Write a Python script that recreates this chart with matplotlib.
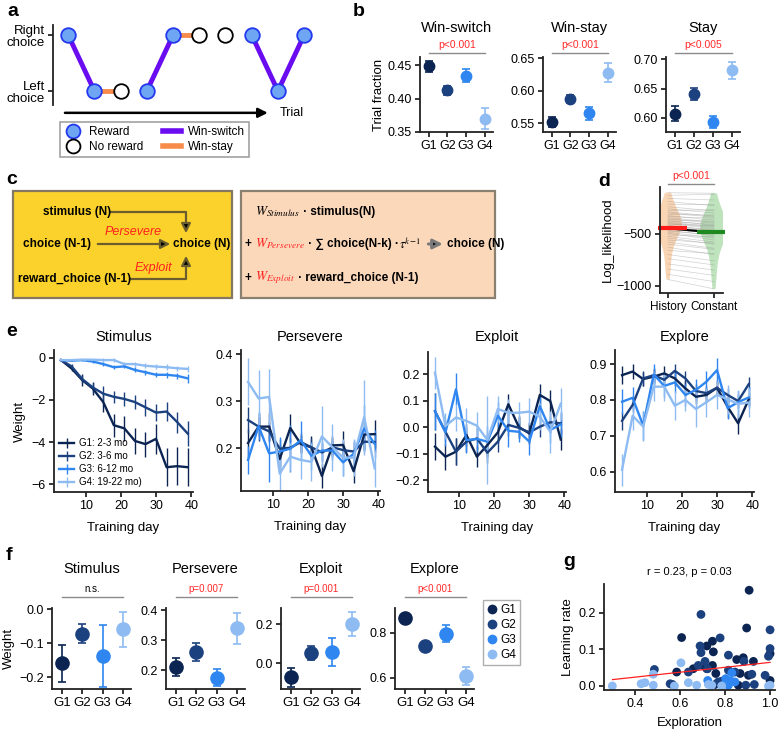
import numpy as np
import matplotlib.pyplot as plt
from matplotlib.lines import Line2D
from matplotlib.patches import Rectangle, FancyArrowPatch

plt.rcParams['font.family'] = ['Liberation Sans', 'DejaVu Sans']
plt.rcParams['mathtext.fontset'] = 'stix'
plt.rcParams['axes.linewidth'] = 1.3
plt.rcParams['axes.edgecolor'] = '#222222'
plt.rcParams['xtick.major.width'] = 1.1
plt.rcParams['ytick.major.width'] = 1.1
plt.rcParams['xtick.major.size'] = 3.5
plt.rcParams['ytick.major.size'] = 3.5
plt.rcParams['xtick.labelsize'] = 9
plt.rcParams['ytick.labelsize'] = 9
plt.rcParams['xtick.major.pad'] = 2.5
plt.rcParams['ytick.major.pad'] = 2.5

##### data
groups = ['G1', 'G2', 'G3', 'G4']
group_colors = ['#0b2452', '#1c417f', '#2f86f0', '#8dbbf2']
age_labels = ['G1: 2-3 mo', 'G2: 3-6 mo', 'G3: 6-12 mo', 'G4: 19-22 mo)']

# a: example trials (1 = right choice)
trial_choice = [1, 0, 0, 0, 1, 1, 1, 1, 0, 1]
trial_reward = [1, 1, 0, 1, 1, 0, 0, 1, 1, 1]

# b
b_titles = ['Win-switch', 'Win-stay', 'Stay']
b_pvals = ['p<0.001', 'p<0.001', 'p<0.005']
winswitch_mean = [0.448, 0.412, 0.434, 0.370]
winswitch_sem = [0.008, 0.007, 0.010, 0.016]
winstay_mean = [0.552, 0.587, 0.565, 0.628]
winstay_sem = [0.008, 0.006, 0.010, 0.015]
stay_mean = [0.607, 0.641, 0.593, 0.681]
stay_sem = [0.013, 0.010, 0.010, 0.015]

# d: log likelihood per animal
ll_history = [-105, -130, -160, -190, -215, -240, -260, -275, -290, -300, -315, -325,
              -335, -345, -355, -365, -372, -380, -388, -395, -402, -410, -418, -425,
              -433, -440, -448, -456, -465, -475, -485, -495, -510, -525, -540, -560,
              -580, -600, -630, -660, -700, -740, -790, -840, -890, -940]
ll_constant = [-110, -120, -175, -230, -220, -280, -300, -270, -330, -340, -320, -370,
               -350, -390, -400, -380, -420, -410, -430, -440, -450, -420, -470, -460,
               -480, -470, -500, -490, -520, -510, -540, -560, -530, -580, -600, -590,
               -640, -650, -700, -690, -760, -800, -850, -900, -960, -1030]

# e: weights over training days
days = [3, 6, 9, 12, 15, 18, 21, 24, 27, 30, 33, 36, 39]
e_titles = ['Stimulus', 'Persevere', 'Exploit', 'Explore']
stim_mean = [[-0.1, -0.5, -1.05, -1.45, -2.1, -3.2, -3.35, -3.95, -4.1, -3.85, -5.2, -5.15, -5.2],
             [-0.1, -0.4, -1.0, -1.4, -1.7, -1.85, -1.95, -2.1, -2.35, -2.6, -2.55, -3.05, -3.6],
             [-0.1, -0.13, -0.1, -0.17, -0.29, -0.44, -0.4, -0.57, -0.68, -0.8, -0.8, -0.85, -0.97],
             [-0.1, -0.1, -0.08, -0.08, -0.1, -0.1, -0.29, -0.29, -0.37, -0.41, -0.44, -0.49, -0.52]]
stim_err = [[0.05, 0.1, 0.3, 0.3, 0.45, 0.55, 0.6, 0.6, 0.6, 0.7, 0.9, 0.9, 0.9],
            [0.05, 0.1, 0.2, 0.2, 0.35, 0.3, 0.35, 0.35, 0.4, 0.4, 0.45, 0.5, 0.6],
            [0.02, 0.03, 0.05, 0.05, 0.08, 0.1, 0.1, 0.12, 0.12, 0.12, 0.13, 0.15, 0.2],
            [0.02, 0.03, 0.05, 0.05, 0.08, 0.1, 0.1, 0.12, 0.12, 0.12, 0.13, 0.13, 0.15]]
pers_mean = [[0.211, 0.246, 0.246, 0.177, 0.243, 0.209, 0.202, 0.141, 0.206, 0.207, 0.151, 0.229, 0.230],
             [0.260, 0.246, 0.236, 0.199, 0.201, 0.213, 0.202, 0.191, 0.202, 0.196, 0.193, 0.214, 0.213],
             [0.175, 0.247, 0.189, 0.193, 0.199, 0.217, 0.184, 0.195, 0.195, 0.170, 0.188, 0.242, 0.209],
             [0.341, 0.306, 0.309, 0.146, 0.182, 0.175, 0.171, 0.225, 0.202, 0.180, 0.180, 0.266, 0.157]]
pers_err = [[0.03, 0.03, 0.03, 0.03, 0.03, 0.02, 0.025, 0.025, 0.02, 0.03, 0.025, 0.03, 0.03],
            [0.028, 0.02, 0.02, 0.02, 0.02, 0.02, 0.02, 0.02, 0.02, 0.02, 0.02, 0.02, 0.02],
            [0.03, 0.03, 0.06, 0.03, 0.05, 0.04, 0.03, 0.02, 0.02, 0.03, 0.03, 0.05, 0.03],
            [0.05, 0.06, 0.06, 0.05, 0.03, 0.04, 0.04, 0.065, 0.05, 0.04, 0.04, 0.08, 0.04]]
expl_mean = [[-0.074, -0.112, -0.093, -0.030, -0.112, -0.068, -0.020, 0.086, 0.000, -0.024, 0.121, 0.098, -0.047],
             [0.060, -0.018, -0.093, -0.055, -0.043, -0.097, -0.055, 0.008, -0.003, -0.020, 0.001, 0.018, 0.014],
             [0.060, -0.020, 0.142, -0.049, -0.045, -0.055, 0.043, -0.014, -0.018, -0.055, 0.079, -0.011, 0.010],
             [0.205, 0.004, 0.036, 0.023, 0.005, -0.049, 0.068, 0.054, 0.054, 0.058, 0.039, -0.018, 0.088]]
expl_err = [[0.05, 0.05, 0.05, 0.04, 0.04, 0.04, 0.04, 0.04, 0.04, 0.04, 0.04, 0.04, 0.04],
            [0.07, 0.04, 0.05, 0.04, 0.04, 0.04, 0.04, 0.04, 0.04, 0.04, 0.04, 0.04, 0.04],
            [0.07, 0.05, 0.06, 0.05, 0.05, 0.06, 0.05, 0.06, 0.04, 0.05, 0.05, 0.05, 0.05],
            [0.06, 0.05, 0.05, 0.05, 0.05, 0.165, 0.05, 0.05, 0.04, 0.05, 0.05, 0.08, 0.06]]
explore_mean = [[0.869, 0.879, 0.858, 0.865, 0.874, 0.860, 0.832, 0.809, 0.814, 0.834, 0.781, 0.735, 0.802],
                [0.742, 0.786, 0.860, 0.869, 0.856, 0.881, 0.860, 0.825, 0.819, 0.834, 0.814, 0.797, 0.844],
                [0.795, 0.806, 0.729, 0.871, 0.839, 0.849, 0.814, 0.828, 0.851, 0.883, 0.777, 0.794, 0.807],
                [0.606, 0.756, 0.726, 0.837, 0.837, 0.784, 0.800, 0.775, 0.794, 0.814, 0.802, 0.789, 0.793]]
explore_err = [[0.025, 0.02, 0.02, 0.02, 0.02, 0.02, 0.02, 0.02, 0.02, 0.02, 0.03, 0.03, 0.02],
               [0.025, 0.02, 0.02, 0.02, 0.02, 0.02, 0.02, 0.02, 0.02, 0.02, 0.02, 0.02, 0.02],
               [0.035, 0.03, 0.04, 0.03, 0.03, 0.03, 0.03, 0.03, 0.03, 0.035, 0.03, 0.03, 0.03],
               [0.045, 0.04, 0.04, 0.04, 0.04, 0.04, 0.03, 0.05, 0.04, 0.04, 0.04, 0.04, 0.04]]

# f: average weights per group
f_titles = ['Stimulus', 'Persevere', 'Exploit', 'Explore']
f_pvals = ['n.s.', 'p=0.007', 'p=0.001', 'p<0.001']
f_stim_mean = [-0.160, -0.073, -0.138, -0.060]
f_stim_err = [0.054, 0.028, 0.091, 0.051]
f_pers_mean = [0.210, 0.259, 0.175, 0.339]
f_pers_err = [0.030, 0.030, 0.028, 0.052]
f_expl_mean = [-0.073, 0.052, 0.058, 0.201]
f_expl_err = [0.049, 0.035, 0.071, 0.061]
f_explore_mean = [0.868, 0.743, 0.797, 0.607]
f_explore_err = [0.016, 0.012, 0.038, 0.040]

# g: exploration vs learning rate
g_explore = [0.907, 0.693, 0.896, 1.0, 0.607, 0.778, 0.744, 0.689, 0.719, 1.0, 1.0, 0.693,
             0.748, 0.815, 0.881, 0.993, 0.926, 0.884, 0.852, 0.711, 0.704, 0.681, 0.744,
             0.722, 0.659, 0.486, 0.585, 0.637, 0.759, 0.844, 0.904, 0.919, 0.867, 0.978,
             1.0, 0.556, 0.566, 0.785, 0.815, 0.770, 0.859, 0.892, 0.756, 0.930, 0.719, 0.815,
             0.604, 0.481, 0.830, 0.444, 0.427, 0.299, 0.481, 0.575, 0.637, 0.674, 0.723,
             0.741, 0.803, 0.815, 0.785, 0.827, 0.844, 1.0, 0.993, 0.800, 0.726]
g_lrate = [0.261, 0.195, 0.158, 0.153, 0.132, 0.131, 0.122, 0.109, 0.109, 0.102, 0.088, 0.091,
           0.093, 0.084, 0.077, 0.081, 0.067, 0.067, 0.072, 0.067, 0.056, 0.056, 0.056,
           0.047, 0.047, 0.045, 0.038, 0.038, 0.034, 0.038, 0.029, 0.032, 0.034, 0.029,
           0.015, 0.006, 0.004, 0.013, 0.011, 0.011, 0.002, 0.002, 0.004, 0.004, 0.047, 0.043,
           0.063, 0.032, 0.036, 0.009, 0.006, 0.0, 0.002, 0.0, 0.009, 0.002, 0.015,
           0.002, 0.020, 0.002, 0.0, 0.013, 0.011, 0.002, 0.0, 0.006, 0.004]
g_group = [0, 1, 0, 1, 0, 1, 0, 1, 0, 1, 0, 1, 0, 1, 0, 1, 0, 1, 0, 1, 0, 1, 0,
           1, 0, 1, 0, 1, 0, 1, 0, 1, 0, 1, 0, 1, 0, 1, 0, 1, 0, 1, 0, 1, 0, 1,
           3, 3, 2, 3, 3, 3, 3, 3, 3, 3, 2, 3, 2, 2, 3, 2, 2, 3, 3, 2, 3]

W, H = 780, 730
fig = plt.figure(figsize=(7.8, 7.3), dpi=100)


def add_ax(x0, y0, x1, y1):
    # axes from pixel box (top-left origin)
    return fig.add_axes([x0 / W, 1 - y1 / H, (x1 - x0) / W, (y1 - y0) / H])


def despine(ax):
    ax.spines['top'].set_visible(False)
    ax.spines['right'].set_visible(False)


def sig(ax, text, color, ytext, yline, fs=7.5):
    tr = ax.get_xaxis_transform()
    ax.plot([0, 3], [yline, yline], transform=tr, color='#8a8a8a', lw=1, clip_on=False)
    ax.text(1.5, ytext, text, transform=tr, ha='center', va='center', color=color, fontsize=fs)


def top_text(ax, frac, s, fs=10.5):
    ax.text(0.5, frac, s, transform=ax.transAxes, ha='center', va='center', fontsize=fs)


for lab, x, y in [('a', 7, 12), ('b', 353, 12), ('c', 6, 180), ('d', 598, 182),
                  ('e', 6, 332), ('f', 6, 555), ('g', 563, 562)]:
    fig.text(x / W, 1 - y / H, lab, fontsize=14, fontweight='bold', va='center', ha='left')

##### a
purple, orange = '#6a0cf0', '#f68b4c'
ax = add_ax(53, 25, 312, 105)
tx = np.arange(1, len(trial_choice) + 1)
ch = np.array(trial_choice)
rw = np.array(trial_reward, bool)
for i in range(len(tx) - 1):
    if rw[i]:
        col = purple if ch[i + 1] != ch[i] else orange
        ax.plot(tx[i:i + 2], ch[i:i + 2], color=col, lw=3.5, zorder=1, clip_on=False)
ax.plot(tx[rw], ch[rw], 'o', ms=10.5, mfc='#6ea6f4', mec='#2438f0', mew=1.3, ls='none',
        zorder=3, clip_on=False)
ax.plot(tx[~rw], ch[~rw], 'o', ms=10.5, mfc='white', mec='black', mew=1.3, ls='none',
        zorder=3, clip_on=False)
ax.set_xlim(0.42, 10.3)
ax.set_ylim(-0.25, 1.18)
for s in ['top', 'right', 'bottom']:
    ax.spines[s].set_visible(False)
ax.set_xticks([])
ax.set_yticks([0, 1])
ax.set_yticklabels(['Left\nchoice', 'Right\nchoice'], fontsize=9.5, linespacing=1.1)
ax.annotate('', xy=(8.72, -0.39), xytext=(0.77, -0.39), annotation_clip=False,
            arrowprops=dict(arrowstyle='-|>', lw=1.8, color='black', mutation_scale=14))
ax.text(9.05, -0.39, 'Trial', va='center', ha='left', fontsize=9)
handles = [Line2D([], [], marker='o', ls='none', ms=10, mfc='#6ea6f4', mec='#2438f0', mew=1.3),
           Line2D([], [], marker='o', ls='none', ms=10, mfc='white', mec='black', mew=1.3),
           Line2D([], [], color=purple, lw=4),
           Line2D([], [], color=orange, lw=4)]
leg = fig.legend(handles, ['Reward', 'No reward', 'Win-switch', 'Win-stay'], ncol=2,
                 loc='upper left', bbox_to_anchor=(60 / W, 1 - 122 / H), fontsize=8.5,
                 fancybox=False, edgecolor='#8a8a8a', borderaxespad=0, handlelength=1.5,
                 columnspacing=1.7, labelspacing=0.25, handletextpad=0.6, borderpad=0.35)
leg.get_frame().set_linewidth(1.2)

##### b
b_means = [winswitch_mean, winstay_mean, stay_mean]
b_sems = [winswitch_sem, winstay_sem, stay_sem]
b_boxes = [(420, 57, 493, 132), (543, 57, 616, 132), (666, 57, 740, 132)]
b_ylims = [(0.35, 0.462), (0.5364, 0.652), (0.576, 0.704)]
b_ticks = [[0.35, 0.40, 0.45], [0.55, 0.60, 0.65], [0.60, 0.65, 0.70]]
for k in range(3):
    ax = add_ax(*b_boxes[k])
    for g in range(4):
        ax.errorbar(g, b_means[k][g], yerr=b_sems[k][g], fmt='o', color=group_colors[g],
                    ms=7.5, capsize=3, elinewidth=1.2, capthick=1.2)
    ax.set_xlim(-0.48, 3.45)
    ax.set_ylim(*b_ylims[k])
    ax.set_yticks(b_ticks[k])
    ax.set_yticklabels(['%.2f' % v for v in b_ticks[k]])
    ax.set_xticks(range(4))
    ax.set_xticklabels(groups)
    despine(ax)
    top_text(ax, 1 + 29 / 75, b_titles[k])
    sig(ax, b_pvals[k], '#ff2a2a', 1 + 12 / 75, 1 + 4 / 75)
    if k == 0:
        ax.set_ylabel('Trial fraction', fontsize=9.5, labelpad=2)

##### c
ax = add_ax(0, 185, 510, 305)
ax.set_xlim(0, 510)
ax.set_ylim(305, 185)
ax.axis('off')
ax.add_patch(Rectangle((13, 191), 219, 107, facecolor='#fbd22b', edgecolor='#857860', lw=1.6))
ax.add_patch(Rectangle((241, 191), 254, 107, facecolor='#fcd8bb', edgecolor='#8a8070', lw=1.6))
shaft = '#6b5d2e'
bold = dict(fontsize=8.5, fontweight='bold', va='center')
ax.text(43, 212, 'stimulus (N)', ha='left', **bold)
ax.text(23, 244, 'choice (N-1)', ha='left', **bold)
ax.text(18, 279, 'reward_choice (N-1)', ha='left', **bold)
ax.text(173, 244, 'choice (N)', ha='left', **bold)
ax.text(105, 232, 'Persevere', ha='left', va='center', fontsize=9, style='italic', color='#ff2020')
ax.text(135, 268, 'Exploit', ha='left', va='center', fontsize=9, style='italic', color='#ff2020')
ax.plot([111, 186, 186], [212, 212, 222], color=shaft, lw=1.6)
ax.plot([130, 186, 186], [279, 279, 266], color=shaft, lw=1.6)


def head(x0, y0, x1, y1, ec=shaft, lw=1.6):
    ax.add_patch(FancyArrowPatch((x0, y0), (x1, y1), arrowstyle='-|>', mutation_scale=14,
                                 lw=lw, ec=ec, fc='black'))


head(186, 220, 186, 236)
head(186, 268, 186, 253)
head(95, 244, 173, 244)


def text_run(x, y, pieces):
    r = fig.canvas.get_renderer()
    for s, kw in pieces:
        t = ax.text(x, y, s, va='center', ha='left', **kw)
        bb = t.get_window_extent(renderer=r)
        x = ax.transData.inverted().transform((bb.x1, bb.y0))[0]
    return x


bk = dict(fontsize=8.5, fontweight='bold')
blk_w = dict(fontsize=9.5)
red_w = dict(fontsize=9.5, color='#ff2020')
text_run(255, 212, [(r'$W_{Stimulus}$', blk_w), (' · stimulus(N)', bk)])
xe = text_run(245, 244, [('+ ', bk), (r'$W_{Persevere}$', red_w), (' · ∑ choice(N-k) ·', bk),
                         (r'$\tau^{k\!-\!1}$', dict(fontsize=9))])
text_run(245, 278, [('+ ', bk), (r'$W_{Exploit}$', red_w), (' · reward_choice (N-1)', bk)])
head(xe + 5, 244, xe + 25, 244, ec='#7a7a7a', lw=2.2)
ax.text(xe + 26, 244, 'choice (N)', ha='left', **bold)

##### d
ax = add_ax(660, 187, 723, 293)
parts = ax.violinplot([ll_history, ll_constant], positions=[0, 1], widths=0.6, showextrema=False)
for body, c in zip(parts['bodies'], ['#f7bf8c', '#9dd59a']):
    body.set_facecolor(c)
    body.set_edgecolor('none')
    body.set_alpha(0.65)
for h, c in zip(ll_history, ll_constant):
    ax.plot([0, 1], [h, c], color='#8c8c8c', lw=0.5, alpha=0.4)
mh, mc = np.mean(ll_history), np.mean(ll_constant)
ax.plot([0, 1], [mh, mc], color='black', lw=1.5)
ax.plot([-0.22, 0.41], [mh, mh], color='#ff1a1a', lw=3, solid_capstyle='butt', clip_on=False)
ax.plot([0.63, 1.24], [mc, mc], color='#1f8a1f', lw=3, solid_capstyle='butt', clip_on=False)
ax.set_xlim(-0.174, 1.196)
ax.set_ylim(-1070, -50)
ax.set_yticks([-500, -1000])
ax.set_xticks([0, 1])
ax.set_xticklabels(['History', 'Constant'], fontsize=8.5)
ax.set_ylabel('Log_likelihood', fontsize=9.5, labelpad=2)
despine(ax)
tr = ax.get_xaxis_transform()
ax.plot([0, 1], [1 + 3 / 106, 1 + 3 / 106], transform=tr, color='#8a8a8a', lw=1, clip_on=False)
ax.text(0.5, 1 + 11 / 106, 'p<0.001', transform=tr, ha='center', va='center', color='#ff2a2a', fontsize=7.5)

##### e
e_means = [stim_mean, pers_mean, expl_mean, explore_mean]
e_errs = [stim_err, pers_err, expl_err, explore_err]
e_boxes = [(54, 350, 193, 492), (241, 350, 380, 491), (428, 352, 566, 492), (615, 350, 754, 492)]
e_ylims = [(-6.38, 0.38), (0.109, 0.409), (-0.245, 0.283), (0.544, 0.939)]
e_ticks = [[0, -2, -4, -6], [0.2, 0.3, 0.4], [-0.2, -0.1, 0.0, 0.1, 0.2], [0.6, 0.7, 0.8, 0.9]]
for k in range(4):
    x0, y0, x1, y1 = e_boxes[k]
    ax = add_ax(*e_boxes[k])
    conts = []
    for g in range(4):
        c = ax.errorbar(days, e_means[k][g], yerr=e_errs[k][g], color=group_colors[g],
                        lw=1.7, elinewidth=1.0, capsize=0)
        conts.append(c)
    ax.set_xlim(1, 40.5)
    ax.set_ylim(*e_ylims[k])
    ax.set_xticks([10, 20, 30, 40])
    ax.set_yticks(e_ticks[k])
    despine(ax)
    top_text(ax, 1 + (y0 - 337) / (y1 - y0), e_titles[k])
    ax.set_xlabel('Training day', fontsize=9.5, labelpad=7)
    if k == 0:
        ax.set_ylabel('Weight', fontsize=9.5, labelpad=4)
        ax.legend(conts, age_labels, loc='lower left', fontsize=7, frameon=False,
                  handlelength=1.6, labelspacing=0.3, borderaxespad=0.1, handletextpad=0.5)

##### f
f_means = [f_stim_mean, f_pers_mean, f_expl_mean, f_explore_mean]
f_errs = [f_stim_err, f_pers_err, f_expl_err, f_explore_err]
f_boxes = [(52, 608, 131, 689), (166, 608, 245, 689), (281, 608, 360, 689), (395, 608, 474, 689)]
f_ylims = [(-0.235, 0.003), (0.137, 0.407), (-0.133, 0.282), (0.551, 0.911)]
f_ticks = [[0.0, -0.1, -0.2], [0.2, 0.3, 0.4], [0.0, 0.2], [0.6, 0.8]]
for k in range(4):
    ax = add_ax(*f_boxes[k])
    for g in range(4):
        ax.errorbar(g, f_means[k][g], yerr=f_errs[k][g], fmt='o', color=group_colors[g],
                    ms=9.5, capsize=3, elinewidth=1.2, capthick=1.2, clip_on=False)
    ax.set_xlim(-0.5, 3.4)
    ax.set_ylim(*f_ylims[k])
    ax.set_yticks(f_ticks[k])
    ax.set_xticks(range(4))
    ax.set_xticklabels(groups, fontsize=9.5)
    despine(ax)
    top_text(ax, 1 + (608 - 569) / 81, f_titles[k])
    pc = 'black' if f_pvals[k] == 'n.s.' else '#ff2a2a'
    sig(ax, f_pvals[k], pc, 1 + (608 - 589) / 81, 1 + (608 - 597) / 81, fs=7)
    if k == 0:
        ax.set_ylabel('Weight', fontsize=9.5, labelpad=3)
h_f = [Line2D([], [], marker='o', ls='none', ms=6, color=group_colors[g]) for g in range(4)]
leg = fig.legend(h_f, groups, loc='upper left', bbox_to_anchor=(483 / W, 1 - 600 / H), fontsize=8.5,
                 fancybox=False, edgecolor='#9a9a9a', borderaxespad=0, handlelength=0.8,
                 handletextpad=0.3, labelspacing=0.25, borderpad=0.35)
leg.get_frame().set_linewidth(1.0)

##### g
ax = add_ax(604, 584, 775, 690)
gx = np.array(g_explore)
gy = np.array(g_lrate)
gg = np.array(g_group)
for g in range(4):
    sel = gg == g
    ax.scatter(gx[sel], gy[sel], s=40, color=group_colors[g], edgecolors='none', zorder=2, clip_on=False)
fit = np.polyfit(gx, gy, 1)
xs = np.array([0.3, 1.0])
ax.plot(xs, np.polyval(fit, xs), color='#ff2020', lw=0.9, zorder=3)
ax.set_xlim(0.262, 1.022)
ax.set_ylim(-0.011, 0.278)
ax.set_xticks([0.4, 0.6, 0.8, 1.0])
ax.set_yticks([0.0, 0.1, 0.2])
despine(ax)
top_text(ax, 1 + (584 - 572) / 106, 'r = 0.23, p = 0.03', fs=8)
ax.set_xlabel('Exploration', fontsize=9.5, labelpad=5)
ax.set_ylabel('Learning rate', fontsize=9.5, labelpad=3)

fig.savefig('out.png', dpi=100)
